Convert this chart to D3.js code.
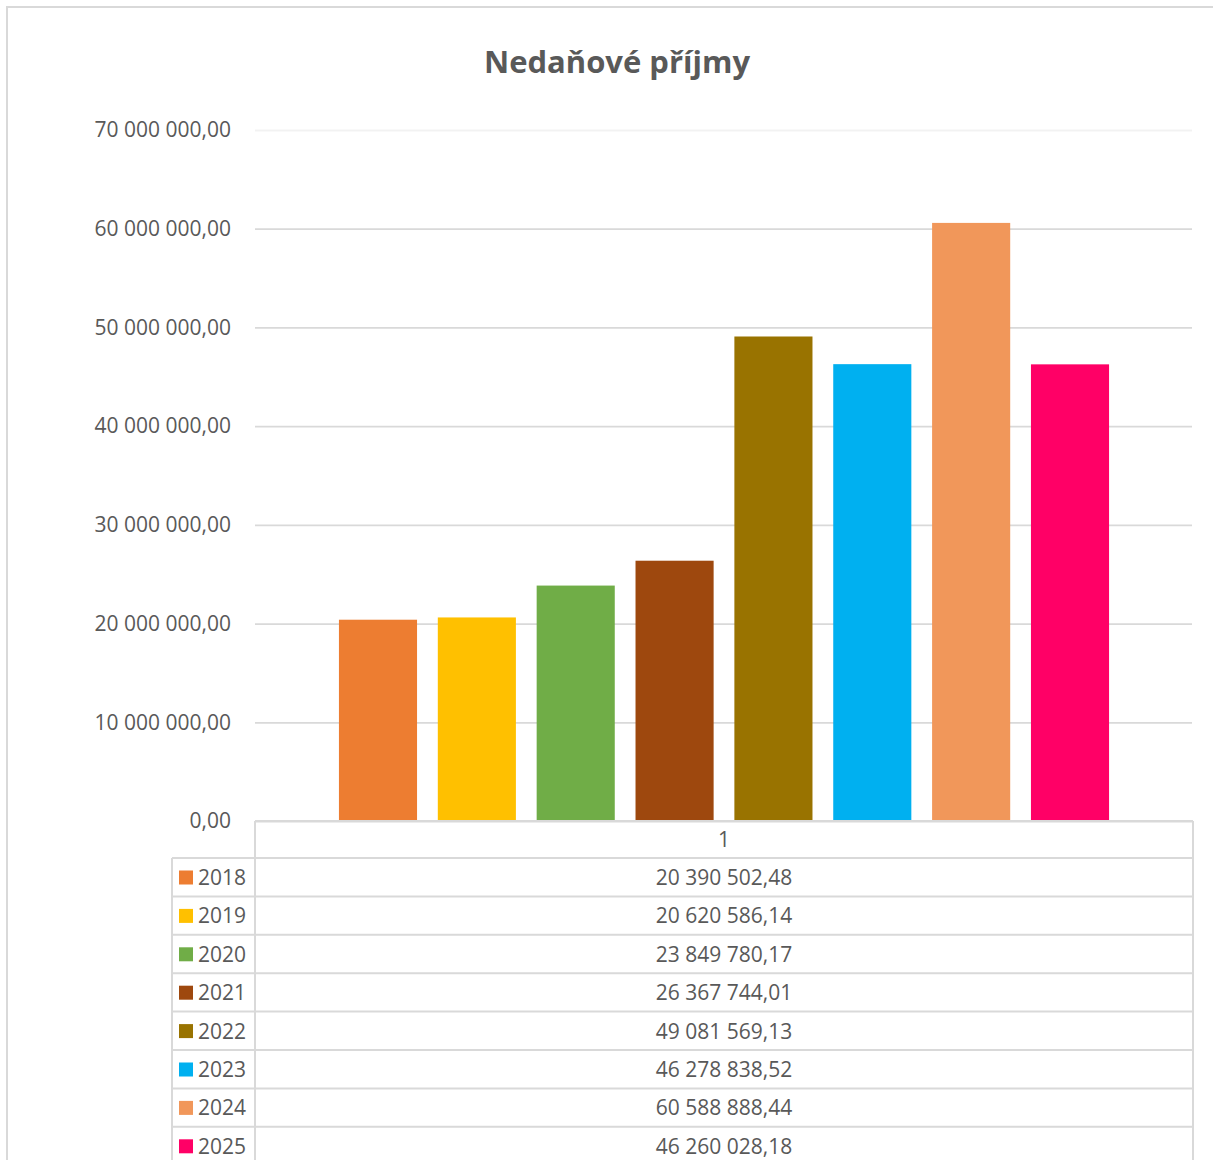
<!DOCTYPE html>
<html>
<head>
<meta charset="utf-8">
<script src="https://cdn.jsdelivr.net/npm/d3@7"></script>
<style>
  body { margin: 0; background: #fff; }
  svg { display: block; font-family: "Open Sans", sans-serif; }
</style>
</head>
<body>
<svg id="chart" width="1213" height="1160"></svg>
<script>
const categories = ["1"];
const years = ["2018", "2019", "2020", "2021", "2022", "2023", "2024", "2025"];
const values = [20390502.48, 20620586.14, 23849780.17, 26367744.01, 49081569.13, 46278838.52, 60588888.44, 46260028.18];
const colors = ["#ED7D31", "#FFC000", "#70AD47", "#9E480E", "#997300", "#00B0F0", "#F1975A", "#FF0066"];
const yTicks = [0, 10000000, 20000000, 30000000, 40000000, 50000000, 60000000, 70000000];

const data = years.map((y, i) => ({ year: y, value: values[i], color: colors[i] }));

const cz = d3.formatLocale({ decimal: ",", thousands: " ", grouping: [3], currency: ["", " Kč"] });
const fmt = cz.format(",.2f");

const svg = d3.select("#chart");
const textColor = "#595959";
const lineColor = "#d9d9d9";
const fs = 21;

const plotLeft = 255, plotRight = 1193, plotTop = 130, plotBottom = 821;
const rowH = 38.4, headerH = 37, legendLeft = 172;

// chart area border (top + left only visible)
svg.append("path")
  .attr("d", `M7,1160 V7 H1213`)
  .attr("fill", "none")
  .attr("stroke", lineColor)
  .attr("stroke-width", 2);

// title
svg.append("text")
  .attr("x", 617).attr("y", 73)
  .attr("text-anchor", "middle")
  .attr("font-size", 31).attr("font-weight", "bold")
  .attr("fill", textColor)
  .text("Nedaňové příjmy");

const x0 = d3.scaleBand().domain(categories).range([plotLeft, plotRight]).paddingOuter(0.109);
const x1 = d3.scaleBand().domain(years)
  .range([x0(categories[0]), x0(categories[0]) + x0.bandwidth()])
  .paddingInner(0.21).paddingOuter(0);
const y = d3.scaleLinear().domain([0, 70000000]).range([plotBottom, plotTop]);

// gridlines + labels
const yAxis = d3.axisLeft(y).tickValues(yTicks).tickSize(-(plotRight - plotLeft - 1)).tickFormat(fmt).tickPadding(24);
const gy = svg.append("g").attr("transform", `translate(${plotLeft},0)`).call(yAxis);
gy.select(".domain").remove();
gy.selectAll(".tick line")
  .attr("stroke", lineColor).attr("stroke-width", 1.8)
  .attr("stroke-opacity", d => d === 70000000 ? 0.35 : 1);
gy.selectAll(".tick text")
  .attr("fill", textColor).attr("font-size", fs)
  .attr("font-family", "'Open Sans', sans-serif");

// bars
svg.append("g").selectAll("rect")
  .data(data).enter().append("rect")
  .attr("x", d => x1(d.year))
  .attr("width", x1.bandwidth())
  .attr("y", d => y(d.value))
  .attr("height", d => plotBottom - y(d.value))
  .attr("fill", d => d.color);

// data table
const table = svg.append("g");
const tableBottom = plotBottom + headerH + rowH * years.length;

table.append("text")
  .attr("x", (plotLeft + plotRight) / 2).attr("y", plotBottom + 26)
  .attr("text-anchor", "middle").attr("font-size", fs).attr("fill", textColor)
  .text(categories[0]);

const rows = table.selectAll(".row").data(data).enter().append("g")
  .attr("transform", (d, i) => `translate(0,${plotBottom + headerH + i * rowH})`);

rows.append("rect")
  .attr("x", 179).attr("y", 12.5).attr("width", 14).attr("height", 14)
  .attr("fill", d => d.color);
rows.append("text")
  .attr("x", 198).attr("y", 27)
  .attr("font-size", fs).attr("fill", textColor)
  .text(d => d.year);
rows.append("text")
  .attr("x", (plotLeft + plotRight) / 2).attr("y", 27)
  .attr("text-anchor", "middle")
  .attr("font-size", fs).attr("fill", textColor)
  .text(d => fmt(d.value));

// table grid
const hLines = [plotBottom].concat(d3.range(years.length + 1).map(i => plotBottom + headerH + i * rowH));
table.selectAll(".hl").data(hLines).enter().append("line")
  .attr("x1", (d, i) => i === 0 ? plotLeft : legendLeft)
  .attr("x2", plotRight)
  .attr("y1", d => d).attr("y2", d => d)
  .attr("stroke", lineColor).attr("stroke-width", 2);
table.append("line")
  .attr("x1", plotLeft).attr("x2", plotLeft)
  .attr("y1", plotBottom).attr("y2", tableBottom + 10)
  .attr("stroke", lineColor).attr("stroke-width", 2);
table.append("line")
  .attr("x1", plotRight).attr("x2", plotRight)
  .attr("y1", plotBottom).attr("y2", tableBottom + 10)
  .attr("stroke", lineColor).attr("stroke-width", 2);
table.append("line")
  .attr("x1", legendLeft).attr("x2", legendLeft)
  .attr("y1", plotBottom + headerH).attr("y2", tableBottom + 10)
  .attr("stroke", lineColor).attr("stroke-width", 2);
</script>
</body>
</html>
